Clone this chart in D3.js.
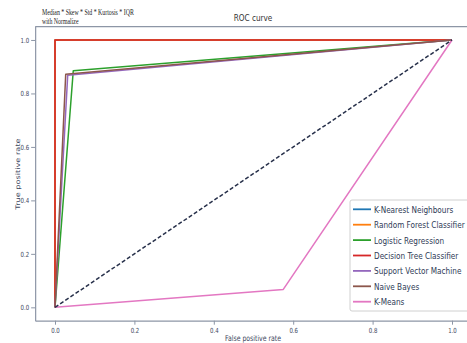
<!DOCTYPE html>
<html>
<head>
<meta charset="utf-8">
<script src="https://cdn.jsdelivr.net/npm/d3@7"></script>
<style>
  html, body { margin: 0; padding: 0; background: #fff; }
  svg { display: block; }
</style>
</head>
<body>
<svg id="chart" width="467" height="343"></svg>
<script>
// ---- data ----
const models = ["K-Nearest Neighbours", "Random Forest Classifier", "Logistic Regression",
                "Decision Tree Classifier", "Support Vector Machine", "Naive Bayes", "K-Means"];
const colors = ["#1f77b4", "#ff7f0e", "#2ca02c", "#d62728", "#9467bd", "#8c564b", "#e377c2"];
const fprKNN = [0, 0, 1],       tprKNN = [0, 1, 1];
const fprRF  = [0, 0, 1],       tprRF  = [0, 1, 1];
const fprLR  = [0, 0.046, 1],   tprLR  = [0, 0.885, 1];
const fprDT  = [0, 0, 1],       tprDT  = [0, 1, 1];
const fprSVM = [0, 0.032, 1],   tprSVM = [0, 0.868, 1];
const fprNB  = [0, 0.027, 1],   tprNB  = [0, 0.872, 1];
const fprKM  = [0, 0.575, 1],   tprKM  = [0, 0.067, 1];
const fprs = [fprKNN, fprRF, fprLR, fprDT, fprSVM, fprNB, fprKM];
const tprs = [tprKNN, tprRF, tprLR, tprDT, tprSVM, tprNB, tprKM];
const diagX = [0, 1], diagY = [0, 1];
const ticks = [0, 0.2, 0.4, 0.6, 0.8, 1.0];

// ---- layout ----
const SX = 0.77; // horizontal squeeze of glyphs in the reference
const svg = d3.select("#chart");
const x = d3.scaleLinear().domain([-0.05, 1.05]).range([35.15, 471.85]);
const y = d3.scaleLinear().domain([-0.05, 1.05]).range([320.7, 26.6]);
const spine = "#8d96a6", txt = "#3c4660";

function sText(g, tx, ty, s, size, opts = {}) {
  const t = g.append("text")
    .attr("transform", `translate(${tx},${ty}) ${opts.rotate ? "rotate(-90)" : ""} scale(${opts.rotate ? 1 : SX},${opts.rotate ? SX : 1})`)
    .attr("font-family", opts.family || "DejaVu Sans")
    .attr("font-size", size)
    .attr("fill", opts.fill || txt)
    .attr("text-anchor", opts.anchor || "start")
    .text(s);
  return t;
}

// curves
const line = d3.line().x(d => x(d[0])).y(d => y(d[1]));
models.forEach((m, i) => {
  const pts = fprs[i].map((f, j) => [f, tprs[i][j]]);
  svg.append("path").attr("d", line(pts)).attr("fill", "none")
    .attr("stroke", colors[i]).attr("stroke-width", 1.5).attr("stroke-linejoin", "round");
});
svg.append("path").attr("d", line(diagX.map((d, i) => [d, diagY[i]])))
  .attr("fill", "none").attr("stroke", "#27304a").attr("stroke-width", 1.5)
  .attr("stroke-dasharray", "4,2.2");

// axes
const xAxis = svg.append("g").attr("transform", `translate(0,${y(-0.05)})`)
  .call(d3.axisBottom(x).tickValues(ticks).tickSize(4).tickSizeOuter(0).tickFormat(d3.format(".1f")));
const yAxis = svg.append("g").attr("transform", `translate(${x(-0.05)},0)`)
  .call(d3.axisLeft(y).tickValues(ticks).tickSize(4).tickSizeOuter(0).tickFormat(d3.format(".1f")));
[xAxis, yAxis].forEach(a => {
  a.select(".domain").attr("stroke", spine).attr("stroke-width", 1.2);
  a.selectAll(".tick line").attr("stroke", spine);
  a.selectAll(".tick text").attr("fill", txt).attr("font-family", "DejaVu Sans").attr("font-size", 7);
});
xAxis.selectAll(".tick text").attr("y", 0).attr("dy", 0)
  .attr("transform", `translate(0,12) scale(${SX},1)`);
yAxis.selectAll(".tick text").attr("x", 0).attr("dy", "0.35em")
  .attr("transform", `translate(-6,0) scale(${SX},1)`);
// top and right spines
svg.append("line").attr("x1", x(-0.05)).attr("x2", x(1.05)).attr("y1", y(1.05)).attr("y2", y(1.05))
  .attr("stroke", spine).attr("stroke-width", 1.2);
svg.append("line").attr("x1", x(1.05)).attr("x2", x(1.05)).attr("y1", y(1.05)).attr("y2", y(-0.05))
  .attr("stroke", spine).attr("stroke-width", 1.2);

// labels
sText(svg, 253, 21, "ROC curve", 9.5, { anchor: "middle", fill: "#333" });
sText(svg, 253, 341, "False positive rate", 8, { anchor: "middle" });
sText(svg, 20, 174, "True positive rate", 8.2, { anchor: "middle", rotate: true });
sText(svg, 42, 15, "Median * Skew * Std * Kurtosis * IQR", 7.6, { family: "Liberation Serif", fill: "#222" });
sText(svg, 42, 24, "with Normalize", 7.6, { family: "Liberation Serif", fill: "#222" });

// legend
const lg = svg.append("g");
lg.append("rect").attr("x", 350).attr("y", 200).attr("width", 130).attr("height", 111)
  .attr("rx", 2).attr("fill", "#fff").attr("fill-opacity", 0.8).attr("stroke", "#d0d0d0");
models.forEach((m, i) => {
  const cy = 209.3 + i * 15.4;
  lg.append("line").attr("x1", 353).attr("x2", 371).attr("y1", cy).attr("y2", cy)
    .attr("stroke", colors[i]).attr("stroke-width", 1.8);
  sText(lg, 374, cy + 3.4, m, 9.5, { fill: "#2e3a56" });
});
</script>
</body>
</html>
